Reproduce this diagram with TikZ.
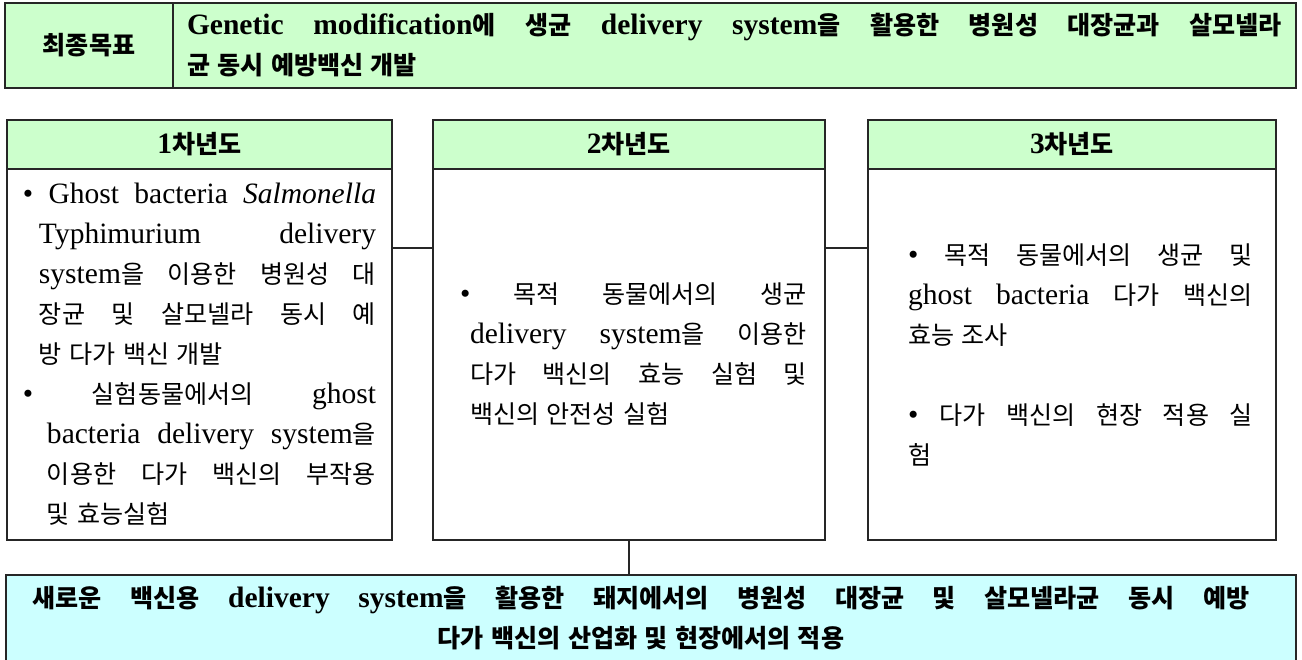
\documentclass[tikz,border=0pt]{standalone}
\usepackage{fontspec}
\setmainfont{Liberation Serif}
\newfontfamily\kr[Scale=0.85]{Noto Sans CJK KR}
\usetikzlibrary{positioning}
\definecolor{titlegreen}{HTML}{CCFFCC}
\definecolor{resultcyan}{HTML}{CCFFFF}
\newcommand{\boxfont}{\fontsize{16.8pt}{22.76pt}\selectfont}
\tolerance=10000
\hbadness=10000

% hangul runs in the korean family, the rest in the main font
\XeTeXinterchartokenstate=1
\newXeTeXintercharclass\hangulclass
\newcount\hcnt
\hcnt="AC00
\loop\ifnum\hcnt<"D7A4 \XeTeXcharclass\hcnt=\hangulclass \advance\hcnt by 1 \repeat
\XeTeXinterchartoks 0 \hangulclass = {\kr}
\XeTeXinterchartoks 4095 \hangulclass = {\kr}
\XeTeXinterchartoks \hangulclass 0 = {\rmfamily}
\XeTeXinterchartoks \hangulclass 4095 = {\rmfamily}

\begin{document}
\begin{tikzpicture}[box/.style={draw=black!85, line width=0.8pt, outer sep=0pt, inner sep=0pt, align=center, font=\boxfont}, goalcell/.style={box, fill=titlegreen, minimum height=1.70cm, font=\boxfont\bfseries}, yeartitle/.style={box, fill=titlegreen, minimum height=0.98cm, font=\boxfont\bfseries}, yearbody/.style={box, minimum height=7.42cm, align=justify}, link/.style={draw=black!85, line width=0.8pt}]

\useasboundingbox (0,0) rectangle (26.04,13.18);

% GOAL

\node [goalcell, minimum width=3.36cm, anchor=north west] (goaltitle) at (0.1,13.12) {최종목표};

\node [goalcell, minimum width=22.46cm, text width=21.9cm, align=justify, right=0cm of goaltitle] (goal)
{Genetic modification에 생균 delivery system을 활용한 병원성 대장균과 살모넬라\linebreak 균 동시 예방백신 개발\par};

% YEARS

\node [yeartitle, minimum width=7.70cm, anchor=north west] (firsttitle) at (0.14,10.78) {1차년도};
\node [yeartitle, minimum width=7.84cm, right=0.82cm of firsttitle] (secondtitle) {2차년도};
\node [yeartitle, minimum width=8.16cm, right=0.86cm of secondtitle] (thirdtitle) {3차년도};

\node [yearbody, minimum width=7.70cm, text width=7.06cm, below=0cm of firsttitle] (first)
{\hangindent=0.32cm\hangafter=1 \textbullet{} Ghost bacteria \textit{Salmonella}\linebreak Typhimurium delivery\linebreak system을 이용한 병원성 대\linebreak 장균 및 살모넬라 동시 예\linebreak 방 다가 백신 개발\par
\hangindent=0.48cm\hangafter=1 \textbullet{} 실험동물에서의 ghost\linebreak bacteria delivery system을\linebreak 이용한 다가 백신의 부작용\linebreak 및 효능실험\par};

\node [yearbody, minimum width=7.84cm, text width=7.12cm, below=0cm of secondtitle] (second)
{\leftskip=0.18cm\hangindent=0.2cm\hangafter=1 \textbullet{} 목적 동물에서의 생균\linebreak delivery system을 이용한\linebreak 다가 백신의 효능 실험 및\linebreak 백신의 안전성 실험\par};

\node [yearbody, minimum width=8.16cm, text width=7.24cm, below=0cm of thirdtitle] (third)
{\leftskip=0.34cm \textbullet{} 목적 동물에서의 생균 및\linebreak ghost bacteria 다가 백신의\linebreak 효능 조사\par\vspace{\baselineskip}
\textbullet{} 다가 백신의 현장 적용 실\linebreak 험\par};

% RESULT

\node [box, fill=resultcyan, font=\boxfont\bfseries, align=justify, minimum width=25.8cm, minimum height=1.72cm, text width=24.74cm, anchor=north west] (result) at (0.12,1.68)
{\rightskip=0.4cm 새로운 백신용 delivery system을 활용한 돼지에서의 병원성 대장균 및 살모넬라균 동시 예방\linebreak \hspace*{\fill}다가 백신의 산업화 및 현장에서의 적용\hspace*{\fill}\par};

% LINKS

\coordinate (linkrow) at (0,8.22);
\draw[link] (first.east |- linkrow) -- (second.west |- linkrow);
\draw[link] (second.east |- linkrow) -- (third.west |- linkrow);
\draw[link] (second.south) -- (second.south |- result.north);

\end{tikzpicture}
\end{document}
